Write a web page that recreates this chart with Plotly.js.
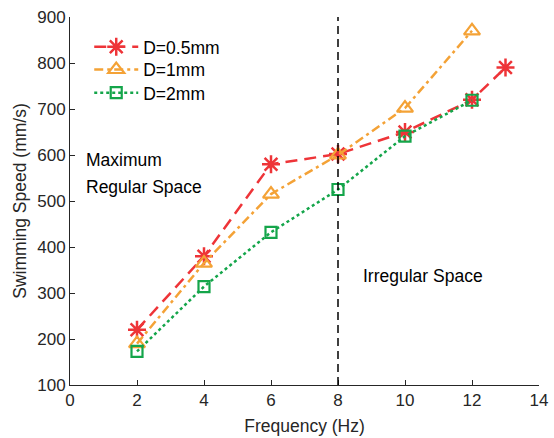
<!DOCTYPE html>
<html>
<head>
<meta charset="utf-8">
<script src="https://cdn.plot.ly/plotly-3.0.1.min.js"></script>
<style>html,body{margin:0;padding:0;background:#fff;}#chart{width:554px;height:438px;}</style>
</head>
<body>
<div id="chart"></div>
<script>
var freqA = [2, 4, 6, 8, 10, 12, 13];
var speedA = [220, 380, 580, 602, 650, 720, 790];
var freqB = [2, 4, 6, 8, 10, 12];
var speedB = [190, 365, 515, 600, 702, 870];
var freqC = [2, 4, 6, 8, 10, 12];
var speedC = [173, 314, 432, 525, 641, 719];
var seriesNames = ["D=0.5mm", "D=1mm", "D=2mm"];
var boundaryX = 8;
var xTicks = [0, 2, 4, 6, 8, 10, 12, 14];
var yTicks = [100, 200, 300, 400, 500, 600, 700, 800, 900];

var red = "#ee3438", orange = "#f4a236", green = "#14a54a";
var font = "Liberation Sans, Arial, sans-serif";
var fs = 17.5;

var traces = [
  {x: freqA, y: speedA, name: seriesNames[0], legend: "legend", mode: "lines+markers", cliponaxis: false,
   line: {color: red, width: 2.5, dash: "12px,7px"},
   marker: {symbol: "asterisk-open", size: 15, color: red, line: {color: red, width: 2.5}}},
  {x: freqB, y: speedB, name: seriesNames[1], legend: "legend2", mode: "lines+markers", cliponaxis: false,
   line: {color: orange, width: 2.5, dash: "9px,4px,3px,4px"},
   marker: {symbol: "triangle-up-open", size: 14, color: orange, line: {color: orange, width: 2.2}}},
  {x: freqC, y: speedC, name: seriesNames[2], legend: "legend3", mode: "lines+markers", cliponaxis: false,
   line: {color: green, width: 2.5, dash: "dot"},
   marker: {symbol: "square-open", size: 11, color: green, line: {color: green, width: 2.2}}}
];

function leg(yc) {
  return {x: 0.041, y: yc, xanchor: "left", yanchor: "middle", bgcolor: "rgba(0,0,0,0)",
          font: {family: font, size: fs, color: "#000"}, itemwidth: 44};
}

var layout = {
  width: 554, height: 438,
  margin: {l: 70, r: 15, t: 17, b: 53},
  paper_bgcolor: "#fff", plot_bgcolor: "#fff",
  font: {family: font, size: fs, color: "#262626"},
  showlegend: true,
  legend: leg(0.919),
  legend2: leg(0.857),
  legend3: leg(0.794),
  xaxis: {range: [0, 14], tickvals: xTicks, ticks: "inside", ticklen: 5, tickcolor: "#262626",
          showline: true, linecolor: "#262626", linewidth: 1, showgrid: false, zeroline: false,
          tickfont: {family: font, size: 17, color: "#262626"},
          title: {text: "Frequency (Hz)", font: {family: font, size: fs, color: "#262626"}, standoff: 10}},
  yaxis: {range: [100, 900], tickvals: yTicks, ticks: "inside", ticklen: 5, tickcolor: "#262626",
          showline: true, linecolor: "#262626", linewidth: 1, showgrid: false, zeroline: false,
          tickfont: {family: font, size: 17, color: "#262626"},
          title: {text: "Swimming Speed (mm/s)", font: {family: font, size: fs, color: "#262626"}, standoff: 6}},
  shapes: [{type: "line", xref: "x", yref: "y", x0: boundaryX, x1: boundaryX, y0: 100, y1: 900,
            line: {color: "#000", width: 1.5, dash: "8px,5px"}}],
  annotations: [
    {x: 0.42, y: 590, xref: "x", yref: "y", text: "Maximum", showarrow: false, xanchor: "left", yanchor: "middle",
     font: {family: font, size: fs, color: "#000"}},
    {x: 0.42, y: 531, xref: "x", yref: "y", text: "Regular Space", showarrow: false, xanchor: "left", yanchor: "middle",
     font: {family: font, size: fs, color: "#000"}},
    {x: 8.69, y: 337, xref: "x", yref: "y", text: "Irregular Space", showarrow: false, xanchor: "left", yanchor: "middle",
     font: {family: font, size: fs, color: "#000"}}
  ]
};

Plotly.newPlot("chart", traces, layout, {displayModeBar: false, staticPlot: true});
</script>
</body>
</html>
